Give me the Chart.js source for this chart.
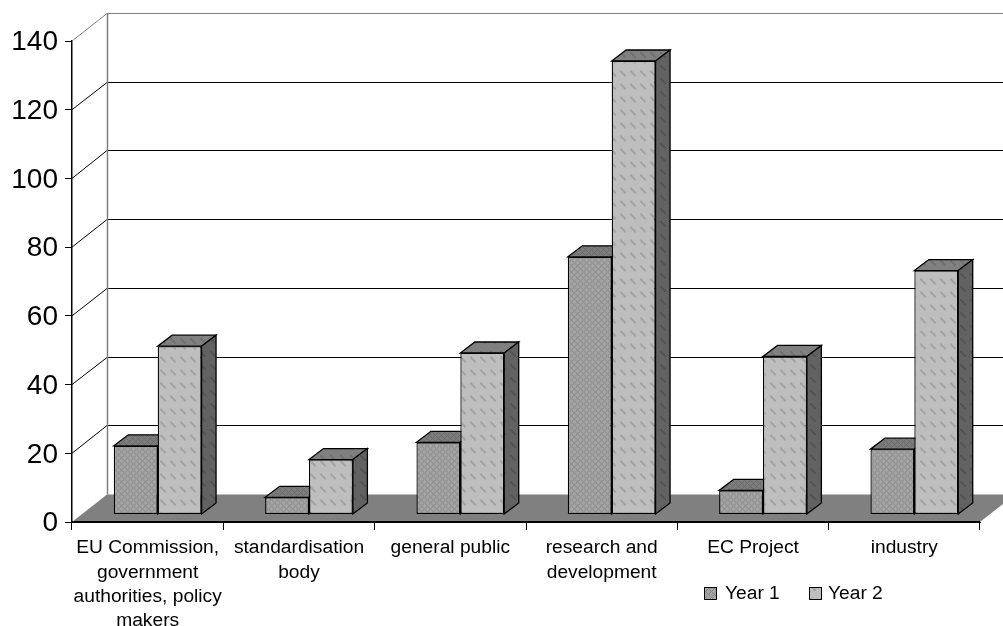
<!DOCTYPE html>
<html>
<head>
<meta charset="utf-8">
<style>
html, body { margin: 0; padding: 0; background: #fff; overflow: hidden; }
canvas { display: block; }
</style>
<script src="https://cdn.jsdelivr.net/npm/chart.js@4/dist/chart.umd.min.js"></script>
</head>
<body>
<canvas id="chart" width="1003" height="626"></canvas>
<script>
const categories = [
    ['EU Commission,', 'government', 'authorities, policy', 'makers'],
    ['standardisation', 'body'],
    'general public',
    ['research and', 'development'],
    'EC Project',
    'industry'
];
const year1 = [20, 5, 21, 75, 7, 19];
const year2 = [49, 16, 47, 132, 46, 71];
const seriesNames = ['Year 1', 'Year 2'];
const yTicks = [0, 20, 40, 60, 80, 100, 120, 140];

// depth of the box the chart sits in
const wallDx = 35, wallDy = -27.5;
// bars stand part way into the floor
const barDx = 10, barDy = -7.5;
// how far each bar sticks out backwards
const sideDx = 14.5, sideDy = -11;

// tile maps: # is the darker pixel
const crossTile = [
    '#.....',
    '.#...#',
    '..#.#.',
    '...#..',
    '..#.#.',
    '.#...#'
];
const dashTile = [
    '##........',
    '###.......',
    '.###......',
    '..###.....',
    '...###....',
    '....##....',
    '..........',
    '..........',
    '..........',
    '..........',
    '..........',
    '..........',
    '..........'
];

function makePattern(tile, bg, fg) {
    const c = document.createElement('canvas');
    c.width = tile[0].length;
    c.height = tile.length;
    const x = c.getContext('2d');
    x.fillStyle = bg;
    x.fillRect(0, 0, c.width, c.height);
    x.fillStyle = fg;
    tile.forEach((row, j) => {
        for (let i = 0; i < row.length; i++) {
            if (row[i] === '#') x.fillRect(i, j, 1, 1);
        }
    });
    return x.createPattern(c, 'repeat');
}

const fronts = [makePattern(crossTile, '#a4a4a4', '#888888'), makePattern(dashTile, '#bebebe', '#a4a4a4')];
const tops = [makePattern(crossTile, '#7c7c7c', '#6c6c6c'), makePattern(dashTile, '#808080', '#727272')];
const sides = [makePattern(crossTile, '#606060', '#525252'), makePattern(dashTile, '#626262', '#555555')];

function poly(ctx, pts, fill, stroke, lw) {
    ctx.beginPath();
    pts.forEach((p, i) => i ? ctx.lineTo(p[0], p[1]) : ctx.moveTo(p[0], p[1]));
    ctx.closePath();
    if (fill) { ctx.fillStyle = fill; ctx.fill(); }
    if (stroke) { ctx.strokeStyle = stroke; ctx.lineWidth = lw || 1; ctx.stroke(); }
}

function line(ctx, x1, y1, x2, y2, color, lw) {
    ctx.beginPath();
    ctx.moveTo(x1, y1);
    ctx.lineTo(x2, y2);
    ctx.strokeStyle = color;
    ctx.lineWidth = lw || 1;
    ctx.stroke();
}

// walls, floor and gridlines behind the bars
function drawBox(chart) {
    const { ctx, chartArea: a, scales: { y } } = chart;
    yTicks.forEach(t => {
        if (t === 0) return;
        const py = y.getPixelForValue(t);
        const backY = Math.floor(py + wallDy) + 0.5;
        const c = t === 140 ? '#808080' : '#000';
        line(ctx, a.left, py, a.left + wallDx, backY, c);
        line(ctx, a.left + wallDx, backY, 1003, backY, c);
    });
    line(ctx, a.left + wallDx + 0.5, y.getPixelForValue(140) + wallDy, a.left + wallDx + 0.5, a.bottom + wallDy, '#808080', 1.5);
    poly(ctx, [
        [a.left, a.bottom],
        [a.right, a.bottom],
        [a.right + wallDx, a.bottom + wallDy],
        [a.left + wallDx, a.bottom + wallDy]
    ], '#808080');
    line(ctx, a.left, a.bottom, a.right, a.bottom, '#000', 2);
}

// top and side faces, then the library's own bar as the front face
function drawSeries(chart, i) {
    const { ctx } = chart;
    const meta = chart.getDatasetMeta(i);
    ctx.save();
    meta.data.forEach(bar => {
        const l = bar.x - bar.width / 2 + barDx, r = bar.x + bar.width / 2 + barDx;
        const t = bar.y + barDy, b = bar.base + barDy;
        poly(ctx, [[l, t], [r, t], [r + sideDx, t + sideDy], [l + sideDx, t + sideDy]], tops[i], '#000', 1.3);
        poly(ctx, [[r, t], [r + sideDx, t + sideDy], [r + sideDx, b + sideDy], [r, b]], sides[i], '#000', 1.3);
    });
    ctx.translate(barDx, barDy);
    meta.controller.draw();
    ctx.restore();
}

function drawLegend(chart) {
    const { ctx } = chart;
    const items = [[704, 725], [809, 828]];
    ctx.save();
    ctx.font = '19.2px "Liberation Sans"';
    ctx.textBaseline = 'middle';
    ctx.textAlign = 'left';
    seriesNames.forEach((name, i) => {
        ctx.fillStyle = fronts[i];
        ctx.fillRect(items[i][0] + 0.5, 587.5, 12, 12);
        ctx.strokeStyle = '#000';
        ctx.lineWidth = 1;
        ctx.strokeRect(items[i][0] + 0.5, 587.5, 12, 12);
        ctx.fillStyle = '#000';
        ctx.fillText(name, items[i][1], 594);
    });
    ctx.restore();
}

const boxPlugin = {
    id: 'box',
    // Chart.js paints the last dataset first, here Year 2 has to land on top of Year 1
    beforeDatasetDraw() {
        return false;
    },
    afterDatasetsDraw(chart) {
        const { ctx } = chart;
        ctx.save();
        drawBox(chart);
        ctx.restore();
        drawSeries(chart, 0);
        drawSeries(chart, 1);
    },
    afterDraw: drawLegend
};

new Chart(document.getElementById('chart'), {
    type: 'bar',
    data: {
        labels: categories,
        datasets: [
            { label: seriesNames[0], data: year1, backgroundColor: fronts[0], borderColor: '#000', borderWidth: 1.3, borderSkipped: false },
            { label: seriesNames[1], data: year2, backgroundColor: fronts[1], borderColor: '#000', borderWidth: 1.3, borderSkipped: false }
        ]
    },
    options: {
        responsive: false,
        animation: false,
        layout: { padding: { top: 41, right: 23, left: 0, bottom: 0 } },
        datasets: { bar: { categoryPercentage: 0.58, barPercentage: 1 } },
        plugins: { legend: { display: false }, tooltip: { enabled: false } },
        scales: {
            x: {
                afterFit(s) { s.height = 104; },
                border: { color: '#000', width: 1 },
                grid: { drawOnChartArea: false, tickLength: 8, color: '#000' },
                ticks: {
                    color: '#000',
                    maxRotation: 0,
                    minRotation: 0,
                    autoSkip: false,
                    padding: 6,
                    font: { family: '"Liberation Sans"', size: 19.2, lineHeight: 1.26 }
                }
            },
            y: {
                min: 0,
                max: 140,
                afterFit(s) { s.width = 72; },
                border: { color: '#000', width: 1.5 },
                grid: { drawOnChartArea: false, tickLength: 7, color: '#000' },
                ticks: {
                    stepSize: 20,
                    color: '#000',
                    padding: 7,
                    labelOffset: 1.5,
                    font: { family: '"Liberation Sans"', size: 28 }
                }
            }
        }
    },
    plugins: [boxPlugin]
});
</script>
</body>
</html>
